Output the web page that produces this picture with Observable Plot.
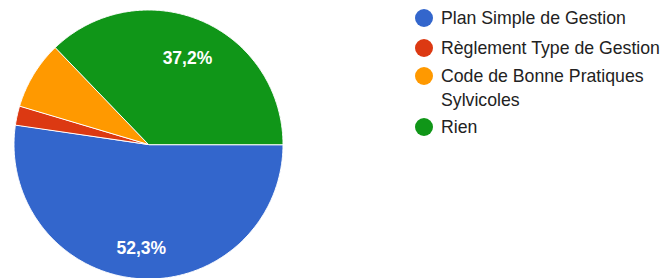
<!DOCTYPE html>
<html>
<head>
<meta charset="utf-8">
<script src="https://cdn.jsdelivr.net/npm/d3@7"></script>
<script src="https://cdn.jsdelivr.net/npm/@observablehq/plot@0.6"></script>
<style>
  body { margin: 0; background: #fff; font-family: "Liberation Sans", Arial, sans-serif; }
  #wrap { position: relative; width: 669px; height: 278px; overflow: hidden; }
  #legend { position: absolute; left: 0; top: 0; width: 669px; height: 278px; }
  .item { position: absolute; left: 415px; display: flex; align-items: flex-start; font-size: 17.7px; color: #222; line-height: 24px; white-space: nowrap; }
  .sw { width: 18px; height: 18px; border-radius: 50%; margin-top: 3px; margin-right: 8px; flex: none; }
</style>
</head>
<body>
<div id="wrap"><div id="chart"></div><div id="legend"></div></div>
<script>
const categories = ["Plan Simple de Gestion", "Règlement Type de Gestion", "Code de Bonne Pratiques Sylvicoles", "Rien"];
const legendLines = [["Plan Simple de Gestion"], ["Règlement Type de Gestion"], ["Code de Bonne Pratiques", "Sylvicoles"], ["Rien"]];
const values = [52.3, 2.3, 8.2, 37.2];
const colors = ["#3366cc", "#dc3912", "#ff9900", "#109618"];

const data = categories.map((c, i) => ({name: c, value: values[i]}));
const arcs = d3.pie().sort(null).value(d => d.value)
  .startAngle(Math.PI / 2).endAngle(Math.PI / 2 + 2 * Math.PI)(data);

const pts = [];
for (const a of arcs) {
  pts.push({name: a.data.name, x: 0, y: 0});
  const n = Math.max(2, Math.ceil((a.endAngle - a.startAngle) / 0.01));
  for (let k = 0; k <= n; k++) {
    const t = a.startAngle + (a.endAngle - a.startAngle) * k / n;
    pts.push({name: a.data.name, x: Math.sin(t), y: Math.cos(t)});
  }
}
const labels = arcs.filter(a => a.data.value > 10).map(a => {
  const m = (a.startAngle + a.endAngle) / 2, r = 0.74;
  return {x: r * Math.sin(m), y: r * Math.cos(m), text: a.data.value.toFixed(1).replace(".", ",") + "%"};
});

const cx = 148, cy = 144, R = 134.5;
const chart = Plot.plot({
  width: 669, height: 278,
  margin: 0,
  x: {domain: [-1, 1], range: [cx - R, cx + R], axis: null},
  y: {domain: [-1, 1], range: [cy + R, cy - R], axis: null},
  color: {domain: categories, range: colors},
  marks: [
    Plot.line(pts, {x: "x", y: "y", z: "name", fill: "name", stroke: "white", strokeWidth: 1, curve: "linear-closed"}),
    Plot.text(labels, {x: "x", y: "y", dy: 5, text: "text", fill: "white", fontSize: 17.5, fontWeight: "bold", fontFamily: "Liberation Sans, Arial, sans-serif"})
  ]
});
document.getElementById("chart").appendChild(chart);

const tops = [6, 36, 64, 115];
const leg = document.getElementById("legend");
legendLines.forEach((lines, i) => {
  const it = document.createElement("div");
  it.className = "item";
  it.style.top = tops[i] + "px";
  const sw = document.createElement("div");
  sw.className = "sw";
  sw.style.background = colors[i];
  const tx = document.createElement("div");
  tx.innerHTML = lines.join("<br>");
  it.appendChild(sw); it.appendChild(tx);
  leg.appendChild(it);
});
</script>
</body>
</html>
